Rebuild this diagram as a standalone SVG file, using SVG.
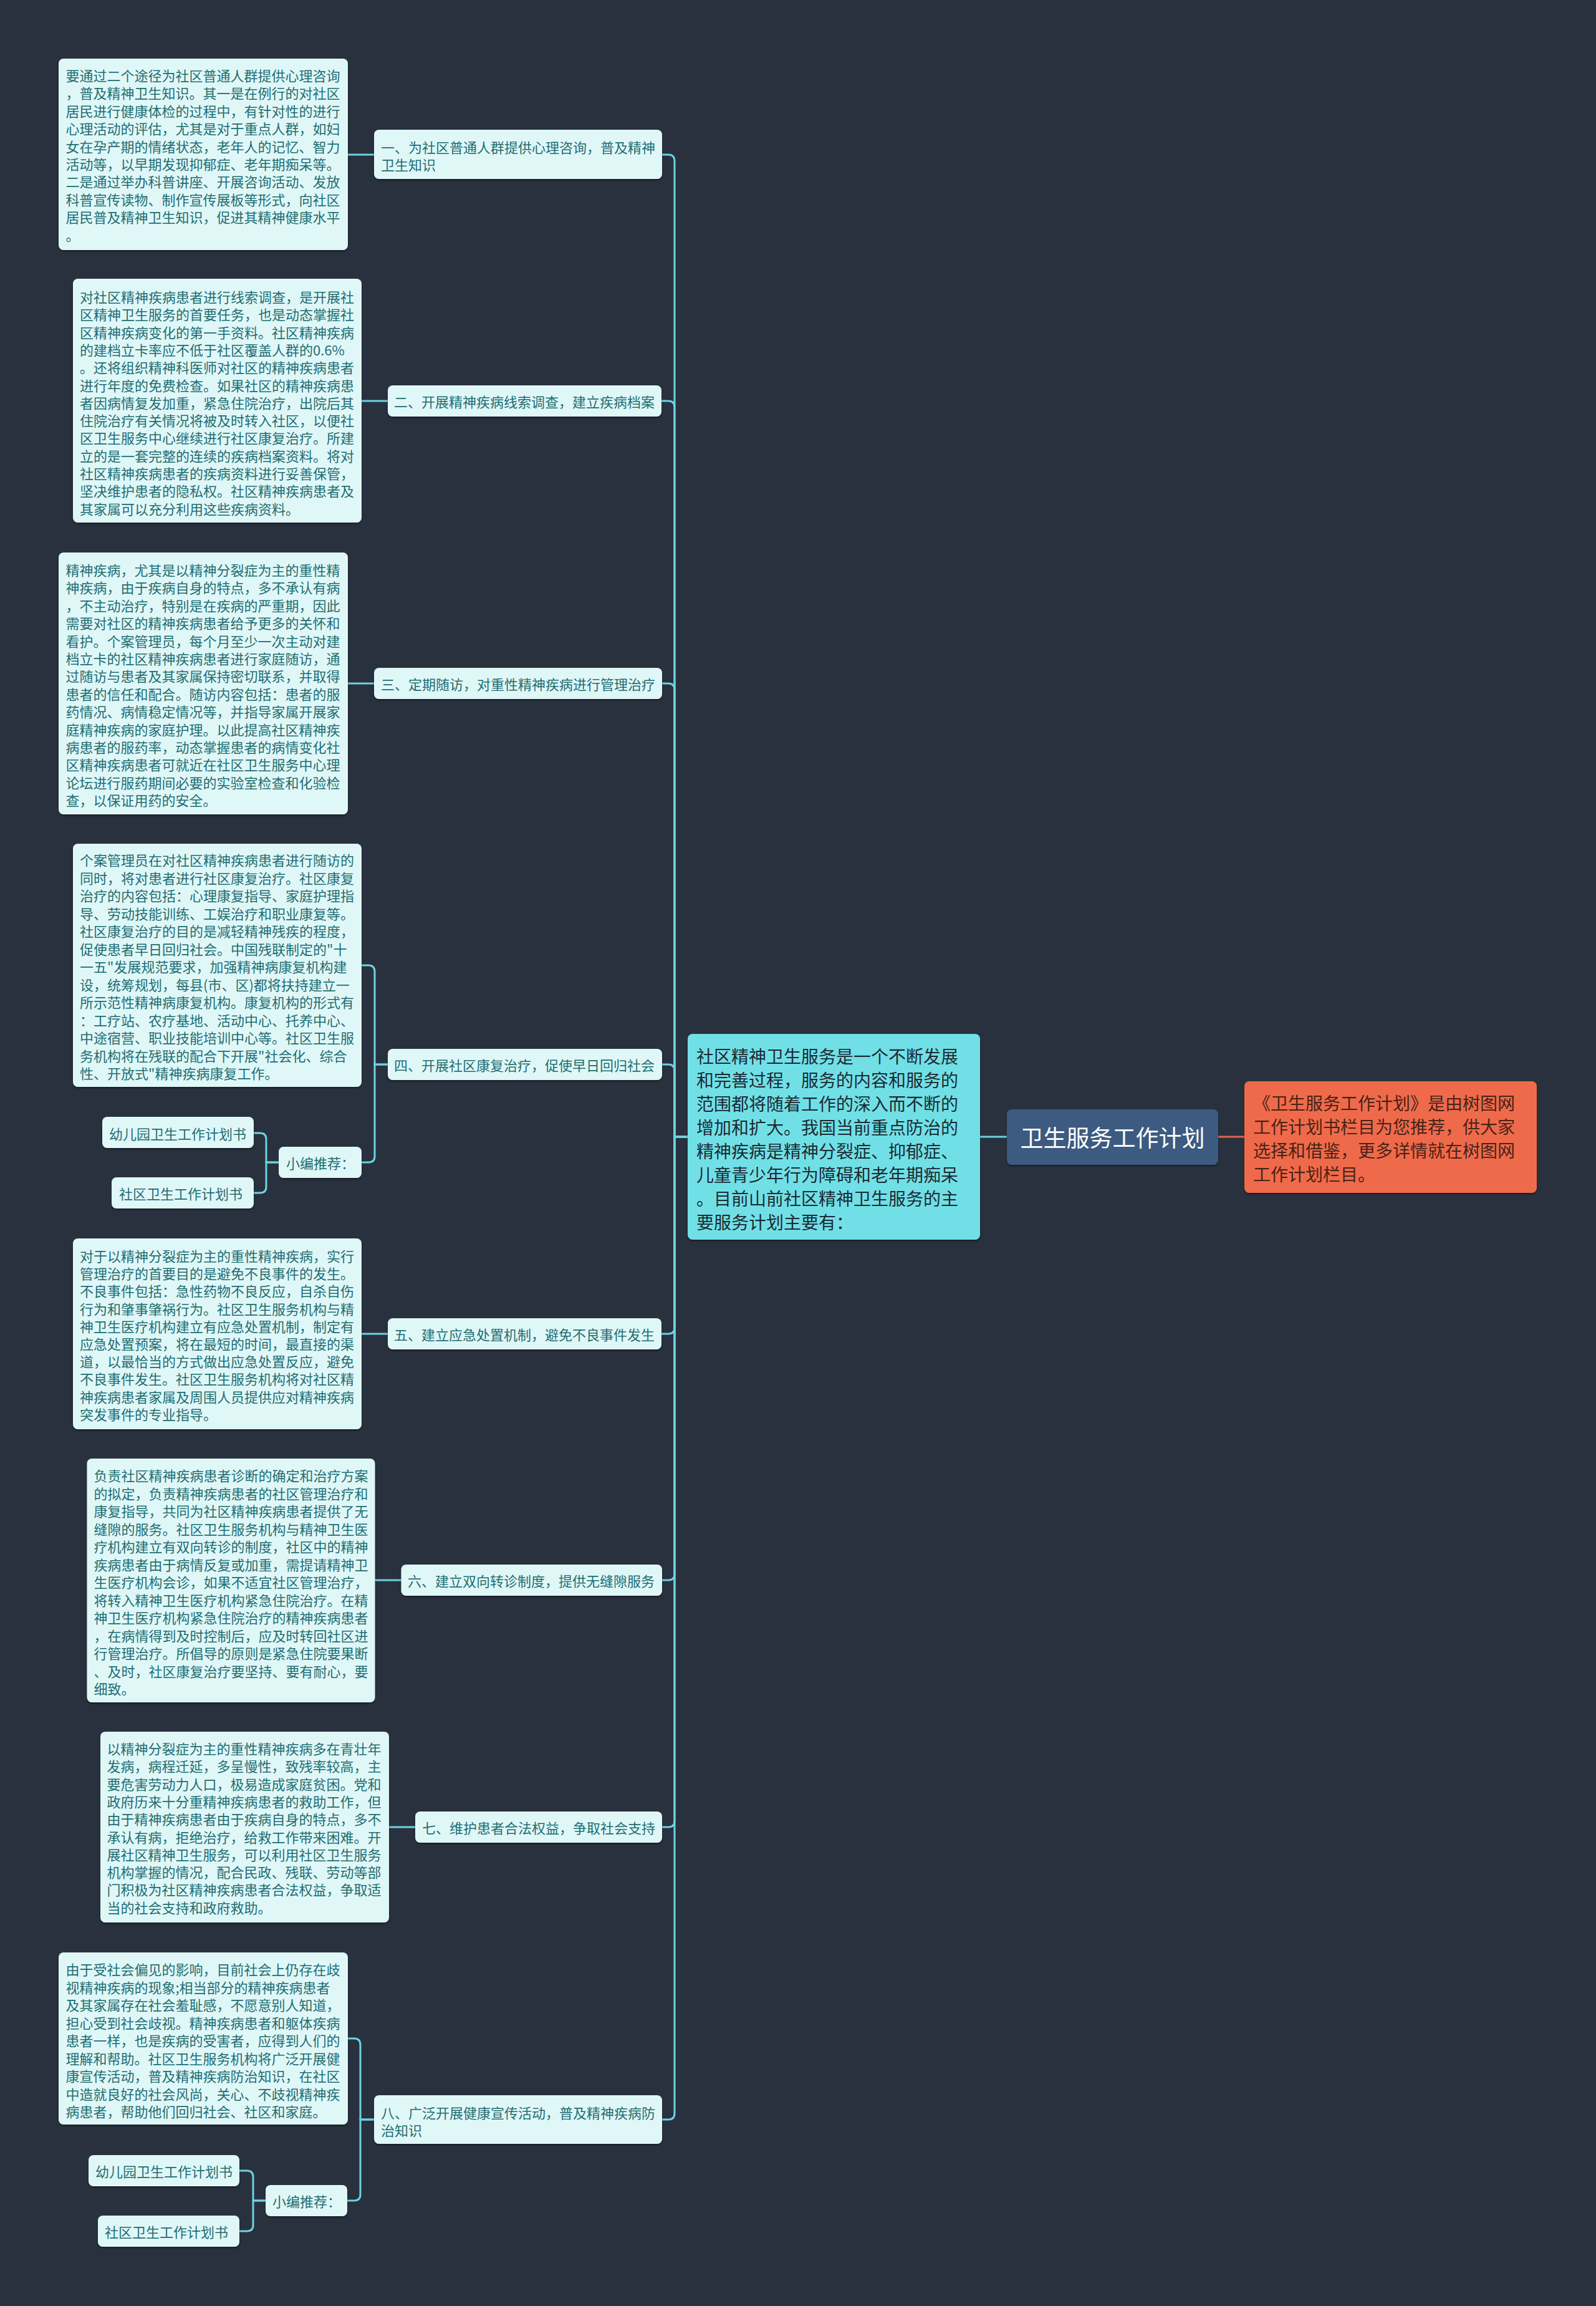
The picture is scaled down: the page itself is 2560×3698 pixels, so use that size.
<svg xmlns="http://www.w3.org/2000/svg" width="2560" height="3698" viewBox="0 0 2560 3698">
<defs>
<filter id="sh" x="-5%" y="-5%" width="110%" height="115%">
<feDropShadow dx="0" dy="2" stdDeviation="1.5" flood-color="#000" flood-opacity="0.45"/>
</filter>
</defs>
<style>
.bg{fill:#29313f}
.box{fill:#e0f7f8;filter:url(#sh)}
.t{font-family:"Noto Sans CJK SC","Noto Sans",sans-serif;font-size:22px;fill:#1e6e72;dominant-baseline:central}
.c{fill:none;stroke:#6dd3df;stroke-width:3;stroke-linecap:round}
.cr{fill:none;stroke:#e0674c;stroke-width:3}
.center{fill:#6fe0e6;filter:url(#sh)}
.ct{font-family:"Noto Sans CJK SC","Noto Sans",sans-serif;font-size:28px;fill:#1c2a33;dominant-baseline:central}
.root{fill:#3d5a80;filter:url(#sh)}
.rt{font-family:"Noto Sans CJK SC","Noto Sans",sans-serif;font-size:37px;fill:#ffffff;dominant-baseline:central;text-anchor:middle}
.rn{fill:#ef6a4b;filter:url(#sh)}
.rnt{font-family:"Noto Sans CJK SC","Noto Sans",sans-serif;font-size:28px;fill:#4a2216;dominant-baseline:central}
</style>
<rect class="bg" x="0" y="0" width="2560" height="3698"/>

<g id="connectors">
<path class="cr" d="M1954 1823 H1996"/>
<path class="c" d="M1572 1823 H1615"/>
<path class="c" d="M1103 1823 H1082 V258 Q1082 248 1072 248 H1062"/>
<path class="c" d="M1103 1823 H1082 V653 Q1082 643 1072 643 H1061"/>
<path class="c" d="M1103 1823 H1082 V1106 Q1082 1096 1072 1096 H1062"/>
<path class="c" d="M1103 1823 H1082 V1717 Q1082 1707 1072 1707 H1062"/>
<path class="c" d="M1103 1823 H1082 V2129 Q1082 2139 1072 2139 H1061"/>
<path class="c" d="M1103 1823 H1082 V2524 Q1082 2534 1072 2534 H1062"/>
<path class="c" d="M1103 1823 H1082 V2920 Q1082 2930 1072 2930 H1062"/>
<path class="c" d="M1103 1823 H1082 V3389 Q1082 3399 1072 3399 H1062"/>
<path class="c" d="M600 248 H558"/>
<path class="c" d="M622 643 H580"/>
<path class="c" d="M600 1096 H558"/>
<path class="c" d="M622 1707 H601 V1558 Q601 1548 591 1548 H580"/>
<path class="c" d="M622 1707 H601 V1854 Q601 1864 591 1864 H580"/>
<path class="c" d="M447 1864 H427 V1827 Q427 1817 417 1817 H407"/>
<path class="c" d="M447 1864 H427 V1903 Q427 1913 417 1913 H407"/>
<path class="c" d="M622 2139 H580"/>
<path class="c" d="M643 2534 H601"/>
<path class="c" d="M666 2930 H624"/>
<path class="c" d="M600 3399 H578 V3279 Q578 3269 568 3269 H558"/>
<path class="c" d="M600 3399 H578 V3519 Q578 3529 568 3529 H557"/>
<path class="c" d="M426 3529 H406 V3491 Q406 3481 396 3481 H384"/>
<path class="c" d="M426 3529 H406 V3568 Q406 3578 396 3578 H384"/>
</g>

<g id="root">
<rect class="root" x="1615" y="1779" width="339" height="89" rx="8"/>
<text class="rt" x="1784.5" y="1823">卫生服务工作计划</text>
</g>

<g id="intro">
<rect class="rn" x="1996" y="1734" width="469" height="179" rx="8"/>
<text class="rnt" x="2010" y="1768"><tspan x="2010" y="1768">《卫生服务工作计划》是由树图网</tspan><tspan x="2010" dy="38">工作计划书栏目为您推荐，供大家</tspan><tspan x="2010" dy="38">选择和借鉴，更多详情就在树图网</tspan><tspan x="2010" dy="38">工作计划栏目。</tspan></text>
</g>

<g id="center">
<rect class="center" x="1103" y="1658" width="469" height="330" rx="8"/>
<text class="ct" x="1117" y="1693"><tspan x="1117" y="1693">社区精神卫生服务是一个不断发展</tspan><tspan x="1117" dy="38">和完善过程，服务的内容和服务的</tspan><tspan x="1117" dy="38">范围都将随着工作的深入而不断的</tspan><tspan x="1117" dy="38">增加和扩大。我国当前重点防治的</tspan><tspan x="1117" dy="38">精神疾病是精神分裂症、抑郁症、</tspan><tspan x="1117" dy="38">儿童青少年行为障碍和老年期痴呆</tspan><tspan x="1117" dy="38">。目前山前社区精神卫生服务的主</tspan><tspan x="1117" dy="38">要服务计划主要有：</tspan></text>
</g>

<g id="label1">
<rect class="box" x="600" y="208" width="462" height="79" rx="8"/>
<text class="t" x="611" y="235"><tspan x="611" y="235">一、为社区普通人群提供心理咨询，普及精神</tspan><tspan x="611" dy="28">卫生知识</tspan></text>
</g>
<g id="detail1">
<rect class="box" x="94" y="94" width="464" height="307" rx="8"/>
<text class="t" x="105.5" y="120"><tspan x="105.5" y="120">要通过二个途径为社区普通人群提供心理咨询</tspan><tspan x="105.5" dy="28.4">，普及精神卫生知识。其一是在例行的对社区</tspan><tspan x="105.5" dy="28.4">居民进行健康体检的过程中，有针对性的进行</tspan><tspan x="105.5" dy="28.4">心理活动的评估，尤其是对于重点人群，如妇</tspan><tspan x="105.5" dy="28.4">女在孕产期的情绪状态，老年人的记忆、智力</tspan><tspan x="105.5" dy="28.4">活动等，以早期发现抑郁症、老年期痴呆等。</tspan><tspan x="105.5" dy="28.4">二是通过举办科普讲座、开展咨询活动、发放</tspan><tspan x="105.5" dy="28.4">科普宣传读物、制作宣传展板等形式，向社区</tspan><tspan x="105.5" dy="28.4">居民普及精神卫生知识，促进其精神健康水平</tspan><tspan x="105.5" dy="28.4">。</tspan></text>
</g>

<g id="label2">
<rect class="box" x="622" y="618" width="439" height="50" rx="8"/>
<text class="t" x="632" y="643">二、开展精神疾病线索调查，建立疾病档案</text>
</g>
<g id="detail2">
<rect class="box" x="117" y="447" width="463" height="391" rx="8"/>
<text class="t" x="128" y="475"><tspan x="128" y="475">对社区精神疾病患者进行线索调查，是开展社</tspan><tspan x="128" dy="28.3">区精神卫生服务的首要任务，也是动态掌握社</tspan><tspan x="128" dy="28.3">区精神疾病变化的第一手资料。社区精神疾病</tspan><tspan x="128" dy="28.3">的建档立卡率应不低于社区覆盖人群的0.6%</tspan><tspan x="128" dy="28.3">。还将组织精神科医师对社区的精神疾病患者</tspan><tspan x="128" dy="28.3">进行年度的免费检查。如果社区的精神疾病患</tspan><tspan x="128" dy="28.3">者因病情复发加重，紧急住院治疗，出院后其</tspan><tspan x="128" dy="28.3">住院治疗有关情况将被及时转入社区，以便社</tspan><tspan x="128" dy="28.3">区卫生服务中心继续进行社区康复治疗。所建</tspan><tspan x="128" dy="28.3">立的是一套完整的连续的疾病档案资料。将对</tspan><tspan x="128" dy="28.3">社区精神疾病患者的疾病资料进行妥善保管，</tspan><tspan x="128" dy="28.3">坚决维护患者的隐私权。社区精神疾病患者及</tspan><tspan x="128" dy="28.3">其家属可以充分利用这些疾病资料。</tspan></text>
</g>

<g id="label3">
<rect class="box" x="600" y="1071" width="462" height="50" rx="8"/>
<text class="t" x="611" y="1096">三、定期随访，对重性精神疾病进行管理治疗</text>
</g>
<g id="detail3">
<rect class="box" x="94" y="886" width="464" height="420" rx="8"/>
<text class="t" x="105.5" y="913"><tspan x="105.5" y="913">精神疾病，尤其是以精神分裂症为主的重性精</tspan><tspan x="105.5" dy="28.4">神疾病，由于疾病自身的特点，多不承认有病</tspan><tspan x="105.5" dy="28.4">，不主动治疗，特别是在疾病的严重期，因此</tspan><tspan x="105.5" dy="28.4">需要对社区的精神疾病患者给予更多的关怀和</tspan><tspan x="105.5" dy="28.4">看护。个案管理员，每个月至少一次主动对建</tspan><tspan x="105.5" dy="28.4">档立卡的社区精神疾病患者进行家庭随访，通</tspan><tspan x="105.5" dy="28.4">过随访与患者及其家属保持密切联系，并取得</tspan><tspan x="105.5" dy="28.4">患者的信任和配合。随访内容包括：患者的服</tspan><tspan x="105.5" dy="28.4">药情况、病情稳定情况等，并指导家属开展家</tspan><tspan x="105.5" dy="28.4">庭精神疾病的家庭护理。以此提高社区精神疾</tspan><tspan x="105.5" dy="28.4">病患者的服药率，动态掌握患者的病情变化社</tspan><tspan x="105.5" dy="28.4">区精神疾病患者可就近在社区卫生服务中心理</tspan><tspan x="105.5" dy="28.4">论坛进行服药期间必要的实验室检查和化验检</tspan><tspan x="105.5" dy="28.4">查，以保证用药的安全。</tspan></text>
</g>

<g id="label4">
<rect class="box" x="622" y="1682" width="440" height="50" rx="8"/>
<text class="t" x="632" y="1707">四、开展社区康复治疗，促使早日回归社会</text>
</g>
<g id="detail4">
<rect class="box" x="117" y="1353" width="463" height="390" rx="8"/>
<text class="t" x="128" y="1378"><tspan x="128" y="1378">个案管理员在对社区精神疾病患者进行随访的</tspan><tspan x="128" dy="28.5">同时，将对患者进行社区康复治疗。社区康复</tspan><tspan x="128" dy="28.5">治疗的内容包括：心理康复指导、家庭护理指</tspan><tspan x="128" dy="28.5">导、劳动技能训练、工娱治疗和职业康复等。</tspan><tspan x="128" dy="28.5">社区康复治疗的目的是减轻精神残疾的程度，</tspan><tspan x="128" dy="28.5">促使患者早日回归社会。中国残联制定的"十</tspan><tspan x="128" dy="28.5">一五"发展规范要求，加强精神病康复机构建</tspan><tspan x="128" dy="28.5">设，统筹规划，每县(市、区)都将扶持建立一</tspan><tspan x="128" dy="28.5">所示范性精神病康复机构。康复机构的形式有</tspan><tspan x="128" dy="28.5">：工疗站、农疗基地、活动中心、托养中心、</tspan><tspan x="128" dy="28.5">中途宿营、职业技能培训中心等。社区卫生服</tspan><tspan x="128" dy="28.5">务机构将在残联的配合下开展"社会化、综合</tspan><tspan x="128" dy="28.5">性、开放式"精神疾病康复工作。</tspan></text>
</g>
<g id="rec1">
<rect class="box" x="447" y="1839" width="133" height="50" rx="8"/>
<text class="t" x="459" y="1864">小编推荐：</text>
</g>
<g id="rec1a">
<rect class="box" x="164" y="1791" width="243" height="50" rx="8"/>
<text class="t" x="175" y="1817">幼儿园卫生工作计划书</text>
</g>
<g id="rec1b">
<rect class="box" x="179" y="1888" width="228" height="50" rx="8"/>
<text class="t" x="191" y="1913">社区卫生工作计划书</text>
</g>

<g id="label5">
<rect class="box" x="622" y="2114" width="439" height="50" rx="8"/>
<text class="t" x="632" y="2139">五、建立应急处置机制，避免不良事件发生</text>
</g>
<g id="detail5">
<rect class="box" x="117" y="1986" width="463" height="306" rx="8"/>
<text class="t" x="128" y="2013"><tspan x="128" y="2013">对于以精神分裂症为主的重性精神疾病，实行</tspan><tspan x="128" dy="28.2">管理治疗的首要目的是避免不良事件的发生。</tspan><tspan x="128" dy="28.2">不良事件包括：急性药物不良反应，自杀自伤</tspan><tspan x="128" dy="28.2">行为和肇事肇祸行为。社区卫生服务机构与精</tspan><tspan x="128" dy="28.2">神卫生医疗机构建立有应急处置机制，制定有</tspan><tspan x="128" dy="28.2">应急处置预案，将在最短的时间，最直接的渠</tspan><tspan x="128" dy="28.2">道，以最恰当的方式做出应急处置反应，避免</tspan><tspan x="128" dy="28.2">不良事件发生。社区卫生服务机构将对社区精</tspan><tspan x="128" dy="28.2">神疾病患者家属及周围人员提供应对精神疾病</tspan><tspan x="128" dy="28.2">突发事件的专业指导。</tspan></text>
</g>

<g id="label6">
<rect class="box" x="643.5" y="2509" width="418.5" height="50" rx="8"/>
<text class="t" x="654" y="2534">六、建立双向转诊制度，提供无缝隙服务</text>
</g>
<g id="detail6">
<rect class="box" x="139.5" y="2339" width="462" height="391" rx="8"/>
<text class="t" x="150.5" y="2365"><tspan x="150.5" y="2365">负责社区精神疾病患者诊断的确定和治疗方案</tspan><tspan x="150.5" dy="28.5">的拟定，负责精神疾病患者的社区管理治疗和</tspan><tspan x="150.5" dy="28.5">康复指导，共同为社区精神疾病患者提供了无</tspan><tspan x="150.5" dy="28.5">缝隙的服务。社区卫生服务机构与精神卫生医</tspan><tspan x="150.5" dy="28.5">疗机构建立有双向转诊的制度，社区中的精神</tspan><tspan x="150.5" dy="28.5">疾病患者由于病情反复或加重，需提请精神卫</tspan><tspan x="150.5" dy="28.5">生医疗机构会诊，如果不适宜社区管理治疗，</tspan><tspan x="150.5" dy="28.5">将转入精神卫生医疗机构紧急住院治疗。在精</tspan><tspan x="150.5" dy="28.5">神卫生医疗机构紧急住院治疗的精神疾病患者</tspan><tspan x="150.5" dy="28.5">，在病情得到及时控制后，应及时转回社区进</tspan><tspan x="150.5" dy="28.5">行管理治疗。所倡导的原则是紧急住院要果断</tspan><tspan x="150.5" dy="28.5">、及时，社区康复治疗要坚持、要有耐心，要</tspan><tspan x="150.5" dy="28.5">细致。</tspan></text>
</g>

<g id="label7">
<rect class="box" x="666" y="2905" width="396" height="50" rx="8"/>
<text class="t" x="677" y="2930">七、维护患者合法权益，争取社会支持</text>
</g>
<g id="detail7">
<rect class="box" x="161" y="2777" width="463" height="306" rx="8"/>
<text class="t" x="171.5" y="2803"><tspan x="171.5" y="2803">以精神分裂症为主的重性精神疾病多在青壮年</tspan><tspan x="171.5" dy="28.3">发病，病程迁延，多呈慢性，致残率较高，主</tspan><tspan x="171.5" dy="28.3">要危害劳动力人口，极易造成家庭贫困。党和</tspan><tspan x="171.5" dy="28.3">政府历来十分重精神疾病患者的救助工作，但</tspan><tspan x="171.5" dy="28.3">由于精神疾病患者由于疾病自身的特点，多不</tspan><tspan x="171.5" dy="28.3">承认有病，拒绝治疗，给救工作带来困难。开</tspan><tspan x="171.5" dy="28.3">展社区精神卫生服务，可以利用社区卫生服务</tspan><tspan x="171.5" dy="28.3">机构掌握的情况，配合民政、残联、劳动等部</tspan><tspan x="171.5" dy="28.3">门积极为社区精神疾病患者合法权益，争取适</tspan><tspan x="171.5" dy="28.3">当的社会支持和政府救助。</tspan></text>
</g>

<g id="label8">
<rect class="box" x="600" y="3360" width="462" height="78" rx="8"/>
<text class="t" x="611" y="3387"><tspan x="611" y="3387">八、广泛开展健康宣传活动，普及精神疾病防</tspan><tspan x="611" dy="28">治知识</tspan></text>
</g>
<g id="detail8">
<rect class="box" x="94" y="3131" width="464" height="276" rx="8"/>
<text class="t" x="105.5" y="3157"><tspan x="105.5" y="3157">由于受社会偏见的影响，目前社会上仍存在歧</tspan><tspan x="105.5" dy="28.5">视精神疾病的现象;相当部分的精神疾病患者</tspan><tspan x="105.5" dy="28.5">及其家属存在社会羞耻感，不愿意别人知道，</tspan><tspan x="105.5" dy="28.5">担心受到社会歧视。精神疾病患者和躯体疾病</tspan><tspan x="105.5" dy="28.5">患者一样，也是疾病的受害者，应得到人们的</tspan><tspan x="105.5" dy="28.5">理解和帮助。社区卫生服务机构将广泛开展健</tspan><tspan x="105.5" dy="28.5">康宣传活动，普及精神疾病防治知识，在社区</tspan><tspan x="105.5" dy="28.5">中造就良好的社会风尚，关心、不歧视精神疾</tspan><tspan x="105.5" dy="28.5">病患者，帮助他们回归社会、社区和家庭。</tspan></text>
</g>
<g id="rec2">
<rect class="box" x="426" y="3504" width="131" height="50" rx="8"/>
<text class="t" x="437" y="3529">小编推荐：</text>
</g>
<g id="rec2a">
<rect class="box" x="142" y="3456" width="242" height="50" rx="8"/>
<text class="t" x="153" y="3481">幼儿园卫生工作计划书</text>
</g>
<g id="rec2b">
<rect class="box" x="157" y="3553" width="227" height="50" rx="8"/>
<text class="t" x="168" y="3578">社区卫生工作计划书</text>
</g>
</svg>
